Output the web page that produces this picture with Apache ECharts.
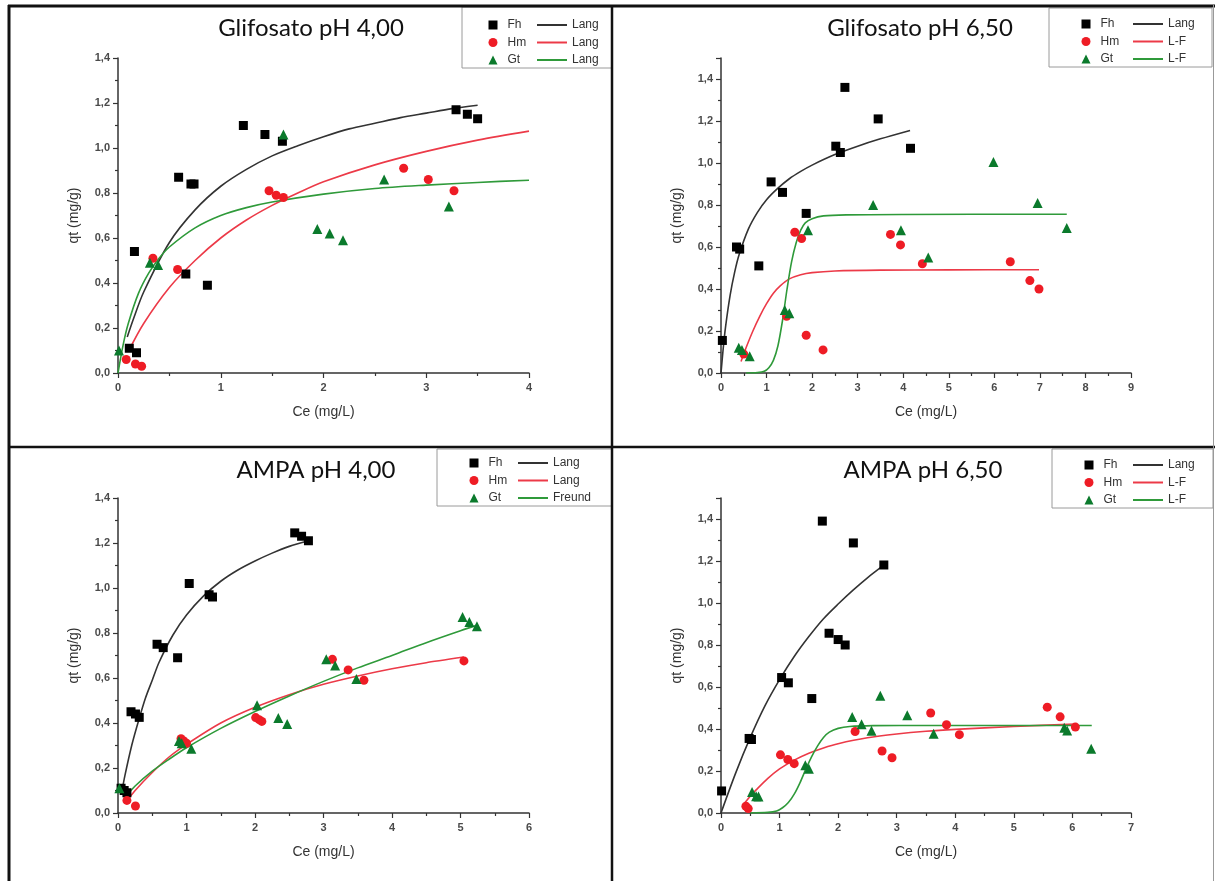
<!DOCTYPE html>
<html>
<head>
<meta charset="utf-8">
<script src="https://cdn.jsdelivr.net/npm/echarts@6/dist/echarts.min.js"></script>
<style>
  html, body { margin: 0; padding: 0; background: #fff; }
  #chart { width: 1215px; height: 881px; }
</style>
</head>
<body>
<div id="chart"></div>
<script>
// ---------- DATA ----------
const titles = ['Glifosato pH 4,00', 'Glifosato pH 6,50', 'AMPA pH 4,00', 'AMPA pH 6,50'];
const xMaxes = [4, 9, 6, 7];
const yMaxes = [1.4, 1.5, 1.4, 1.5];
const xAxisName = 'Ce (mg/L)';
const yAxisName = 'qt (mg/g)';
const materials = ['Fh', 'Hm', 'Gt'];

const p1Models = ['Lang', 'Lang', 'Lang'];
const p2Models = ['Lang', 'L-F', 'L-F'];
const p3Models = ['Lang', 'Lang', 'Freund'];
const p4Models = ['Lang', 'L-F', 'L-F'];

// Panel 1: Glifosato pH 4,00
const p1Fh = [[0.11,0.11],[0.18,0.09],[0.16,0.54],[0.59,0.87],[0.71,0.84],[0.74,0.84],[0.66,0.44],[0.87,0.39],[1.22,1.10],[1.43,1.06],[1.60,1.03],[3.29,1.17],[3.40,1.15],[3.50,1.13]];
const p1Hm = [[0.08,0.06],[0.17,0.04],[0.23,0.03],[0.34,0.51],[0.58,0.46],[1.47,0.81],[1.54,0.79],[1.61,0.78],[2.78,0.91],[3.02,0.86],[3.27,0.81]];
const p1Gt = [[0.01,0.10],[0.31,0.49],[0.39,0.48],[1.61,1.06],[2.59,0.86],[1.94,0.64],[2.06,0.62],[2.19,0.59],[3.22,0.74]];
const p1FhFit = [[0.09,0.16],[0.15,0.24],[0.25,0.36],[0.5,0.58],[0.75,0.725],[1.0,0.83],[1.25,0.905],[1.5,0.965],[1.75,1.01],[2.0,1.05],[2.25,1.085],[2.5,1.11],[2.75,1.135],[3.0,1.155],[3.25,1.175],[3.5,1.19]];
const p1HmFit = [[0.1,0.095],[0.25,0.22],[0.5,0.38],[0.75,0.50],[1.0,0.60],[1.25,0.68],[1.5,0.745],[1.75,0.80],[2.0,0.85],[2.5,0.925],[3.0,0.985],[3.5,1.035],[4.0,1.075]];
const p1GtFit = [[0,0],[0.05,0.125],[0.1,0.22],[0.2,0.355],[0.3,0.445],[0.4,0.51],[0.5,0.56],[0.75,0.645],[1.0,0.70],[1.25,0.735],[1.5,0.76],[2.0,0.795],[2.5,0.82],[3.0,0.835],[3.5,0.847],[4.0,0.857]];

// Panel 2: Glifosato pH 6,50
const p2Fh = [[0.03,0.155],[0.34,0.60],[0.41,0.59],[0.83,0.51],[1.10,0.91],[1.35,0.86],[1.87,0.76],[2.52,1.08],[2.62,1.05],[2.72,1.36],[3.45,1.21],[4.16,1.07]];
const p2Hm = [[0.50,0.09],[1.44,0.27],[1.62,0.67],[1.77,0.64],[1.87,0.18],[2.24,0.11],[3.72,0.66],[3.94,0.61],[4.42,0.52],[6.35,0.53],[6.78,0.44],[6.98,0.40]];
const p2Gt = [[0.39,0.12],[0.46,0.11],[0.63,0.08],[1.40,0.30],[1.50,0.285],[1.91,0.68],[3.34,0.80],[3.95,0.68],[4.55,0.55],[5.98,1.005],[6.95,0.81],[7.59,0.69]];
const p2FhFit = [[0,0],[0.05,0.12],[0.1,0.22],[0.2,0.37],[0.3,0.48],[0.4,0.565],[0.6,0.685],[0.8,0.765],[1.0,0.825],[1.25,0.88],[1.5,0.925],[1.75,0.96],[2.0,0.99],[2.5,1.04],[3.0,1.08],[3.5,1.115],[4.15,1.155]];
const p2HmFit = [[0.44,0.055],[0.55,0.12],[0.7,0.20],[0.85,0.27],[1.0,0.33],[1.15,0.38],[1.3,0.415],[1.5,0.448],[1.75,0.468],[2.0,0.478],[2.5,0.486],[3.5,0.49],[5.0,0.491],[6.98,0.492]];
const p2GtFit = [[0.55,0],[0.8,0.002],[0.95,0.008],[1.05,0.025],[1.15,0.06],[1.25,0.13],[1.35,0.25],[1.45,0.40],[1.55,0.53],[1.65,0.62],[1.75,0.68],[1.85,0.715],[2.0,0.735],[2.25,0.748],[2.75,0.753],[4.0,0.755],[7.59,0.756]];

// Panel 3: AMPA pH 4,00
const p3Fh = [[0.045,0.11],[0.09,0.10],[0.13,0.09],[0.19,0.45],[0.255,0.44],[0.31,0.425],[0.57,0.75],[0.66,0.735],[0.87,0.69],[1.04,1.02],[1.33,0.97],[1.38,0.96],[2.58,1.245],[2.68,1.23],[2.78,1.21]];
const p3Hm = [[0.13,0.056],[0.255,0.031],[0.92,0.33],[0.96,0.32],[1.00,0.31],[2.01,0.424],[2.06,0.415],[2.10,0.407],[3.13,0.683],[3.36,0.636],[3.59,0.59],[5.05,0.676]];
const p3Gt = [[0.02,0.11],[0.89,0.32],[0.93,0.31],[1.07,0.286],[2.03,0.479],[2.34,0.422],[2.47,0.396],[3.04,0.683],[3.17,0.656],[3.48,0.596],[5.03,0.871],[5.13,0.849],[5.24,0.83]];
const p3FhFit = [[0.06,0.10],[0.1,0.165],[0.2,0.30],[0.3,0.41],[0.4,0.51],[0.5,0.59],[0.6,0.67],[0.8,0.79],[1.0,0.88],[1.25,0.965],[1.5,1.03],[1.75,1.08],[2.0,1.12],[2.25,1.155],[2.5,1.185],[2.78,1.21]];
const p3HmFit = [[0.12,0.05],[0.25,0.10],[0.5,0.18],[0.75,0.25],[1.0,0.305],[1.5,0.40],[2.0,0.47],[2.5,0.526],[3.0,0.572],[3.5,0.609],[4.0,0.641],[4.5,0.668],[5.05,0.693]];
const p3GtFit = [[0.1,0.067],[0.25,0.12],[0.5,0.186],[0.75,0.24],[1.0,0.29],[1.5,0.376],[2.0,0.451],[2.5,0.52],[3.0,0.585],[3.5,0.645],[4.0,0.70],[4.5,0.757],[5.0,0.81],[5.25,0.835]];

// Panel 4: AMPA pH 6,50
const p4Fh = [[0.01,0.105],[0.48,0.355],[0.52,0.35],[1.035,0.645],[1.15,0.62],[1.55,0.545],[1.73,1.39],[1.845,0.856],[2.0,0.826],[2.12,0.80],[2.26,1.286],[2.78,1.181]];
const p4Hm = [[0.425,0.032],[0.465,0.021],[1.015,0.277],[1.14,0.255],[1.25,0.235],[2.29,0.388],[2.75,0.295],[2.92,0.263],[3.58,0.476],[3.85,0.42],[4.07,0.373],[5.57,0.504],[5.79,0.458],[6.05,0.409]];
const p4Gt = [[0.53,0.10],[0.60,0.08],[0.64,0.078],[1.44,0.227],[1.50,0.211],[2.24,0.457],[2.40,0.423],[2.57,0.392],[2.72,0.558],[3.18,0.465],[3.63,0.377],[5.86,0.406],[5.91,0.393],[6.32,0.306]];
const p4FhFit = [[0,0],[0.25,0.19],[0.5,0.36],[0.75,0.51],[1.0,0.635],[1.25,0.745],[1.5,0.84],[1.75,0.925],[2.0,0.995],[2.25,1.06],[2.5,1.12],[2.78,1.18]];
const p4HmFit = [[0.41,0.05],[0.5,0.08],[0.6,0.11],[0.8,0.165],[1.0,0.21],[1.25,0.252],[1.5,0.285],[1.75,0.31],[2.0,0.33],[2.5,0.358],[3.0,0.376],[3.5,0.389],[4.0,0.398],[5.0,0.412],[6.05,0.424]];
const p4GtFit = [[0.5,0],[0.8,0.003],[0.95,0.01],[1.05,0.025],[1.15,0.05],[1.25,0.09],[1.35,0.145],[1.45,0.21],[1.55,0.27],[1.65,0.32],[1.75,0.36],[1.85,0.385],[2.0,0.403],[2.2,0.412],[2.6,0.416],[3.5,0.417],[6.33,0.417]];

// ---------- LAYOUT / STYLE ----------
const markerColors = ['#000000', '#ee1c25', '#0b7a2c'];
const lineColors = ['#333333', '#ec3a48', '#2f9a3a'];
const symbols = ['rect', 'circle', 'triangle'];
const symbolSizes = [9, 9, 10];

const panelData = [
  { pts: [p1Fh, p1Hm, p1Gt], fits: [p1FhFit, p1HmFit, p1GtFit], models: p1Models },
  { pts: [p2Fh, p2Hm, p2Gt], fits: [p2FhFit, p2HmFit, p2GtFit], models: p2Models },
  { pts: [p3Fh, p3Hm, p3Gt], fits: [p3FhFit, p3HmFit, p3GtFit], models: p3Models },
  { pts: [p4Fh, p4Hm, p4Gt], fits: [p4FhFit, p4HmFit, p4GtFit], models: p4Models }
];

const gridPos = [
  { left: 118, right: 686, top: 58, bottom: 508 },
  { left: 721, right: 84, top: 58, bottom: 508 },
  { left: 118, right: 686, top: 498, bottom: 68 },
  { left: 721, right: 84, top: 498, bottom: 68 }
];
const titlePos = [[311, 28], [920, 28], [316, 470], [923, 470]];
const legendPos = [
  { box: [462, 7, 150, 61], mark: 488.5, line: 537, top: 19 },
  { box: [1049, 8, 163, 59], mark: 1081.5, line: 1133, top: 18 },
  { box: [437, 449, 175, 57], mark: 469.5, line: 518, top: 457 },
  { box: [1052, 449, 161, 59], mark: 1084.5, line: 1133, top: 459 }
];

const fmtY = v => v.toFixed(1).replace('.', ',');
const axisTextStyle = { fontFamily: 'Liberation Sans', fontSize: 11, color: '#4a4a4a', fontWeight: 'bold' };
const nameStyle = { fontFamily: 'Liberation Sans', fontSize: 14, color: '#333' };
const legendText = { fontFamily: 'Liberation Sans', fontSize: 12, color: '#333', lineHeight: 12 };
const lineIcon = 'path://M0,0 H30 V2 H0 Z';

const grid = [], xAxis = [], yAxis = [], series = [], legend = [], graphic = [];

panelData.forEach((p, i) => {
  grid.push(Object.assign({ containLabel: false }, gridPos[i]));
  xAxis.push({
    type: 'value', gridIndex: i, min: 0, max: xMaxes[i], interval: 1,
    name: xAxisName, nameLocation: 'middle', nameGap: 32, nameTextStyle: nameStyle,
    axisLine: { onZero: false, lineStyle: { color: '#333', width: 1.5 } },
    axisTick: { show: true, length: 5, lineStyle: { color: '#333', width: 1.2 } },
    minorTick: { show: true, splitNumber: 2, length: 3, lineStyle: { color: '#333', width: 1.2 } },
    axisLabel: Object.assign({ margin: 9, formatter: v => String(v) }, axisTextStyle),
    splitLine: { show: false }
  });
  yAxis.push({
    type: 'value', gridIndex: i, min: 0, max: yMaxes[i], interval: 0.2,
    name: yAxisName, nameLocation: 'middle', nameGap: 37, nameTextStyle: nameStyle,
    axisLine: { onZero: false, lineStyle: { color: '#333', width: 1.5 } },
    axisTick: { show: true, length: 5, lineStyle: { color: '#333', width: 1.2 } },
    minorTick: { show: true, splitNumber: 2, length: 3, lineStyle: { color: '#333', width: 1.2 } },
    axisLabel: Object.assign({ margin: 8, formatter: fmtY, showMaxLabel: yMaxes[i] === 1.4 }, axisTextStyle),
    splitLine: { show: false }
  });
  // fitted curves
  p.fits.forEach((d, k) => {
    series.push({
      type: 'line', name: materials[k] + ' fit', xAxisIndex: i, yAxisIndex: i,
      data: d, smooth: 0.3, symbol: 'none', showSymbol: false,
      lineStyle: { color: lineColors[k], width: 1.6 }, itemStyle: { color: lineColors[k] },
      z: 2, silent: true
    });
  });
  // measured points
  p.pts.forEach((d, k) => {
    series.push({
      type: 'scatter', name: materials[k], xAxisIndex: i, yAxisIndex: i,
      data: d, symbol: symbols[k], symbolSize: symbolSizes[k],
      itemStyle: { color: markerColors[k], opacity: 1 }, z: 3, silent: true
    });
  });
  const lp = legendPos[i];
  const models = p.models;
  legend.push({
    orient: 'vertical', left: lp.mark, top: lp.top, padding: 0, itemGap: 5.5,
    itemWidth: 9, itemHeight: 9, selectedMode: false,
    data: materials.slice(),
    textStyle: Object.assign({ padding: [0, 0, 0, 5] }, legendText)
  });
  legend.push({
    orient: 'vertical', left: lp.line, top: lp.top, padding: 0, itemGap: 5.5,
    itemWidth: 30, itemHeight: 2, selectedMode: false, icon: lineIcon,
    data: materials.map(m => m + ' fit'),
    formatter: name => models[materials.indexOf(name.replace(' fit', ''))],
    textStyle: legendText
  });
  graphic.push({
    type: 'rect', shape: { x: lp.box[0], y: lp.box[1], width: lp.box[2], height: lp.box[3] },
    style: { fill: '#fff', stroke: '#9a9a9a', lineWidth: 1 }, z: -1, silent: true
  });
  graphic.push({
    type: 'text', x: titlePos[i][0], y: titlePos[i][1], silent: true,
    style: { text: titles[i], fill: '#111', font: '24px Lato', textAlign: 'center', textVerticalAlign: 'middle' }
  });
});

// panel frame lines
const frameLines = [
  [[8, 6], [1215, 6], 3, '#111'],
  [[9, 5], [9, 881], 3, '#111'],
  [[612, 5], [612, 881], 2.5, '#111'],
  [[8, 447], [1215, 447], 2.5, '#111'],
  [[1213.5, 5], [1213.5, 881], 1, '#999']
];
frameLines.forEach(f => {
  graphic.push({
    type: 'line', silent: true, z: 10,
    shape: { x1: f[0][0], y1: f[0][1], x2: f[1][0], y2: f[1][1] },
    style: { stroke: f[3], lineWidth: f[2] }
  });
});

const chart = echarts.init(document.getElementById('chart'), null, { renderer: 'canvas' });
chart.setOption({
  animation: false,
  backgroundColor: '#fff',
  grid, xAxis, yAxis, series, legend, graphic
});
</script>
</body>
</html>
